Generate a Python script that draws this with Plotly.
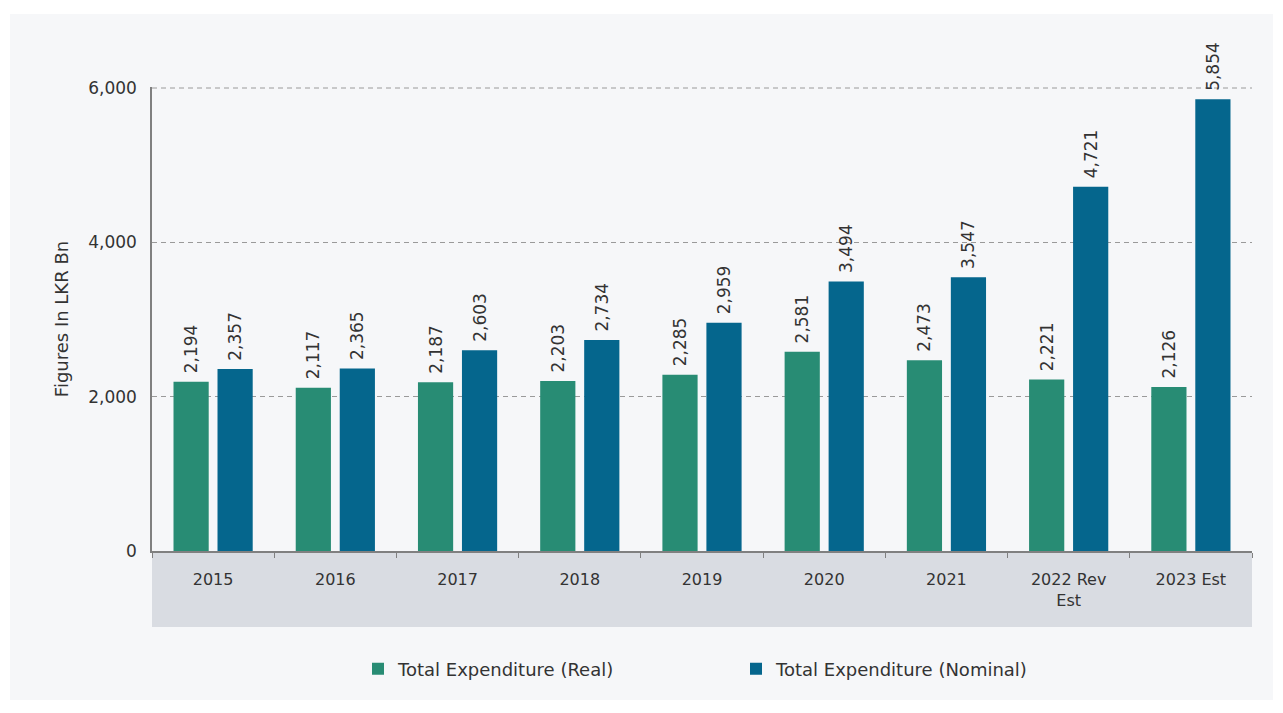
import plotly.graph_objects as go

categories = ["2015", "2016", "2017", "2018", "2019", "2020", "2021", "2022 Rev<br>Est", "2023 Est"]
real_values = [2194, 2117, 2187, 2203, 2285, 2581, 2473, 2221, 2126]
nominal_values = [2357, 2365, 2603, 2734, 2959, 3494, 3547, 4721, 5854]
y_ticks = [0, 2000, 4000, 6000]

GREEN = "#288c74"
BLUE = "#05668d"
TXT = "#333333"
FONT = "DejaVu Sans"
GRID = "#9a9a9a"
DASH = "5px,4px"

fig = go.Figure()
for name, vals, col in [("Total Expenditure (Real)", real_values, GREEN),
                        ("Total Expenditure (Nominal)", nominal_values, BLUE)]:
    fig.add_trace(go.Bar(
        x=categories, y=vals, name=name,
        marker=dict(color=col, line=dict(width=0)),
        texttemplate="\u00a0%{y:,}", textposition="outside", textangle=-90,
        constraintext="none", cliponaxis=False,
        textfont=dict(family=FONT, size=17, color=TXT),
    ))

OFF = 8  # page offset of the figure inside the browser window
W, H = 1275, 705
# reference pixel positions of plot area
PL, PR, PT, PB = 152, 1252, 87, 551
L = PL - OFF
T = PT - OFF
R = W - (PR - OFF)
B = H - (PB - OFF)
pw = PR - PL
ph = PB - PT

def px_x(x):
    return (x - PL) / pw

def px_y(y):
    return (PB - y) / ph

shapes = [
    dict(type="rect", xref="paper", yref="paper", layer="below",
         x0=px_x(10), x1=px_x(1273), y0=px_y(700), y1=px_y(14),
         fillcolor="#f6f7f9", line=dict(width=0)),
    dict(type="rect", xref="paper", yref="paper", layer="below",
         x0=0, x1=1, y0=px_y(627), y1=0,
         fillcolor="#d9dce2", line=dict(width=0)),
    # top gridline (at the edge of the value range)
    dict(type="line", xref="paper", yref="y", layer="below",
         x0=0, x1=1, y0=y_ticks[-1], y1=y_ticks[-1],
         line=dict(color=GRID, width=1, dash=DASH)),
]

fig.update_layout(
    width=W, height=H,
    margin=dict(l=L, r=R, t=T, b=B),
    paper_bgcolor="white",
    plot_bgcolor="rgba(0,0,0,0)",
    barmode="group", bargap=0.28, bargroupgap=0.2,
    font=dict(family=FONT, size=16, color=TXT),
    shapes=shapes,
    showlegend=True,
    legend=dict(orientation="h", x=0.5 + 34 / pw, xanchor="center", y=px_y(669), yanchor="middle",
                font=dict(family=FONT, size=18, color=TXT), entrywidth=333,
                bgcolor="rgba(0,0,0,0)"),
    xaxis=dict(
        type="category", showgrid=False, showline=True, linecolor="#808080", linewidth=1.5,
        ticks="outside", tickson="boundaries", ticklen=5, tickcolor="#808080",
        tickfont=dict(family=FONT, size=16, color=TXT), ticklabelstandoff=13,
    ),
    yaxis=dict(
        range=[0, 6013], tickvals=y_ticks, tickformat=",",
        showgrid=True, gridcolor=GRID, griddash=DASH, gridwidth=1,
        zeroline=False, showline=True, linecolor="#808080", linewidth=1.5,
        ticks="", tickfont=dict(family=FONT, size=17, color=TXT), ticklabelstandoff=10,
        title=dict(text="Figures In LKR Bn", font=dict(family=FONT, size=18, color=TXT), standoff=15),
    ),
)

fig.write_html("out.html")
